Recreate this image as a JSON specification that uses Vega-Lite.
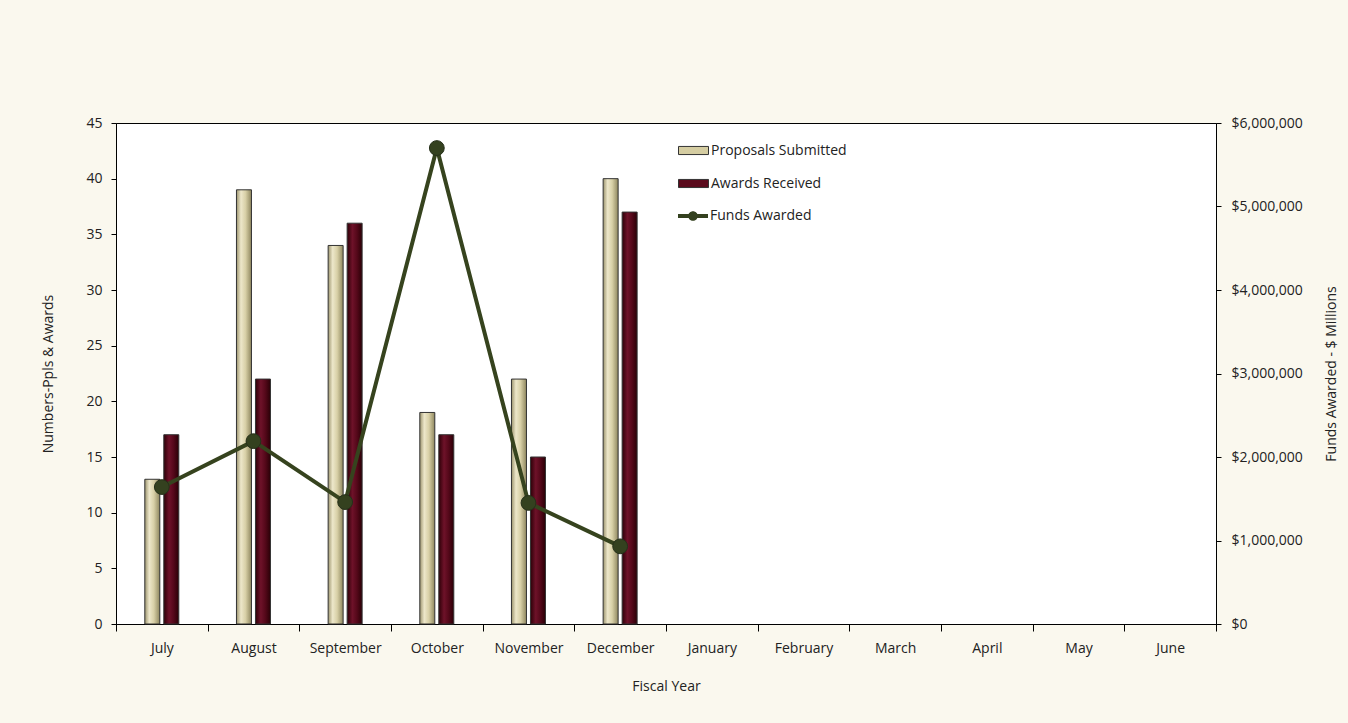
{
  "$schema": "https://vega.github.io/schema/vega-lite/v6.json",
  "width": 1100,
  "height": 501,
  "autosize": {"type": "none"},
  "padding": {"left": 116, "top": 123, "right": 132, "bottom": 99},
  "background": "#FAF8EE",
  "config": {
    "view": {"fill": "white", "stroke": "black", "strokeWidth": 1},
    "font": "Open Sans",
    "axis": {
      "grid": false,
      "domainColor": "black",
      "tickColor": "black",
      "labelColor": "#222222",
      "titleColor": "#222222",
      "labelFontSize": 14,
      "titleFontSize": 14,
      "titleFontWeight": "normal",
      "tickSize": 5
    }
  },
  "datasets": {
    "bars": [
      {"month": "July", "series": "Proposals Submitted", "count": 13},
      {"month": "July", "series": "Awards Received", "count": 17},
      {"month": "August", "series": "Proposals Submitted", "count": 39},
      {"month": "August", "series": "Awards Received", "count": 22},
      {"month": "September", "series": "Proposals Submitted", "count": 34},
      {"month": "September", "series": "Awards Received", "count": 36},
      {"month": "October", "series": "Proposals Submitted", "count": 19},
      {"month": "October", "series": "Awards Received", "count": 17},
      {"month": "November", "series": "Proposals Submitted", "count": 22},
      {"month": "November", "series": "Awards Received", "count": 15},
      {"month": "December", "series": "Proposals Submitted", "count": 40},
      {"month": "December", "series": "Awards Received", "count": 37}
    ],
    "funds": [
      {"month": "July", "funds": 1640000},
      {"month": "August", "funds": 2190000},
      {"month": "September", "funds": 1460000},
      {"month": "October", "funds": 5700000},
      {"month": "November", "funds": 1450000},
      {"month": "December", "funds": 930000}
    ]
  },
  "layer": [
    {
      "data": {"name": "bars"},
      "mark": {"type": "bar", "stroke": "#333333", "strokeWidth": 1},
      "encoding": {
        "x": {
          "field": "month",
          "type": "nominal",
          "sort": ["July","August","September","October","November","December","January","February","March","April","May","June"],
          "scale": {
            "domain": ["July","August","September","October","November","December","January","February","March","April","May","June"],
            "paddingInner": 0,
            "paddingOuter": 0
          },
          "axis": {"title": "Fiscal Year", "labelAngle": 0, "labelPadding": 10, "titlePadding": 24, "tickBand": "extent", "tickSize": 7}
        },
        "xOffset": {
          "field": "series",
          "type": "nominal",
          "sort": ["Proposals Submitted", "Awards Received"],
          "scale": {"range": [28.8, 62.8], "paddingInner": 0.2105, "paddingOuter": 0}
        },
        "y": {
          "field": "count",
          "type": "quantitative",
          "scale": {"domain": [0, 45], "nice": false},
          "axis": {"title": "Numbers-Ppls & Awards", "values": [0,5,10,15,20,25,30,35,40,45], "labelPadding": 9, "titlePadding": 30}
        },
        "fill": {
          "condition": [
            {
              "test": "datum.series === 'Proposals Submitted'",
              "value": {
                "gradient": "linear", "x1": 0, "x2": 1, "y1": 0, "y2": 0,
                "stops": [
                  {"offset": 0, "color": "#9C946E"},
                  {"offset": 0.3, "color": "#EDE7CA"},
                  {"offset": 0.6, "color": "#D8D0A7"},
                  {"offset": 1, "color": "#8F875F"}
                ]
              }
            },
            {
              "test": "datum.series === 'Awards Received'",
              "value": {
                "gradient": "linear", "x1": 0, "x2": 1, "y1": 0, "y2": 0,
                "stops": [
                  {"offset": 0, "color": "#2E0008"},
                  {"offset": 0.35, "color": "#6E1229"},
                  {"offset": 0.65, "color": "#55081A"},
                  {"offset": 1, "color": "#2A0006"}
                ]
              }
            }
          ],
          "field": "series",
          "type": "nominal",
          "sort": ["Proposals Submitted", "Awards Received"],
          "scale": {"domain": ["Proposals Submitted", "Awards Received"], "range": ["#D5CDA2", "#5A0A1C"]},
          "legend": {
            "title": null,
            "orient": "none",
            "legendX": 562,
            "legendY": 12,
            "symbolType": "M-1,-0.27H1V0.27H-1Z",
            "symbolSize": 900,
            "symbolStrokeColor": "#333333",
            "symbolStrokeWidth": 1,
            "labelFontSize": 14,
            "labelColor": "#222222",
            "labelOffset": 2,
            "rowPadding": 10
          }
        }
      }
    },
    {
      "data": {"name": "funds"},
      "layer": [
        {
          "mark": {"type": "line", "color": "#36431E", "strokeWidth": 4},
          "encoding": {
            "x": {"field": "month", "type": "nominal"},
            "y": {
              "field": "funds",
              "type": "quantitative",
              "scale": {"domain": [0, 6000000], "nice": false},
              "axis": {"orient": "right", "title": "Funds Awarded - $ Millions", "titleAngle": 270, "format": "$,.0f", "values": [0,1000000,2000000,3000000,4000000,5000000,6000000], "labelPadding": 10, "titlePadding": 36}
            }
          }
        },
        {
          "mark": {"type": "point", "filled": true, "size": 220, "opacity": 1, "stroke": "#26301a", "strokeWidth": 1},
          "encoding": {
            "x": {"field": "month", "type": "nominal"},
            "y": {"field": "funds", "type": "quantitative"},
            "fill": {
              "datum": "Funds Awarded",
              "scale": {"domain": ["Funds Awarded"], "range": ["#34411F"]},
              "legend": {
                "title": null,
                "orient": "none",
                "legendX": 562,
                "legendY": 78,
                "symbolType": "M-1,-0.13H1V0.13H-1Z M-0.32,0A0.32,0.32 0 1,1 0.32,0A0.32,0.32 0 1,1 -0.32,0Z",
                "symbolSize": 900,
                "symbolStrokeWidth": 0,
                "labelFontSize": 14,
                "labelColor": "#222222",
                "labelOffset": 2
              }
            }
          }
        }
      ]
    }
  ],
  "resolve": {"scale": {"y": "independent", "fill": "independent"}}
}
